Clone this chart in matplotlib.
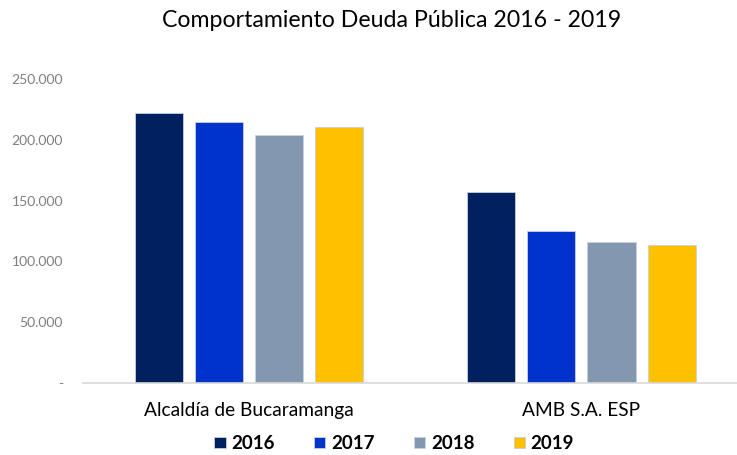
import matplotlib
matplotlib.use("Agg")
import matplotlib.pyplot as plt
import numpy as np

categories = ["Alcaldía de Bucaramanga", "AMB S.A. ESP"]
years = ["2016", "2017", "2018", "2019"]
values = {
    "2016": [222200, 156900],
    "2017": [214800, 125000],
    "2018": [204400, 115900],
    "2019": [210900, 113700],
}
colors = ["#002060", "#0033CC", "#8497B0", "#FFC000"]
yticks = [0, 50000, 100000, 150000, 200000, 250000]
ytick_labels = ["-", "50.000", "100.000", "150.000", "200.000", "250.000"]

plt.rcParams["font.family"] = ["Lato", "DejaVu Sans"]

fig = plt.figure(figsize=(7.37, 4.55), dpi=100)
ax = fig.add_axes([83 / 737, (455 - 382.7) / 455, 1 - 83 / 737, (382.7 - 79.3) / 455])

x = np.arange(len(categories))
step = 0.1807
width = 0.1446
for k, (yr, col) in enumerate(zip(years, colors)):
    ax.bar(x + (k - 1.5) * step, values[yr], width, color=col,
           edgecolor="#c8d0e0", linewidth=0.6, label=yr)

ax.set_xlim(-0.5, 1.468)
ax.set_ylim(0, 250000)
ax.set_yticks(yticks)
ax.set_yticklabels(ytick_labels, color="#7f7f7f", fontsize=10)
ax.set_xticks(x)
ax.set_xticklabels(categories, fontsize=13.8, color="black")
ax.tick_params(axis="both", length=0)
ax.tick_params(axis="y", pad=14.5)
ax.tick_params(axis="x", pad=14)
for s in ["top", "right", "left"]:
    ax.spines[s].set_visible(False)
ax.spines["bottom"].set_color("#d9d9d9")
ax.spines["bottom"].set_linewidth(1.2)

fig.text(0.531, 0.955, "Comportamiento Deuda Pública 2016 - 2019",
         ha="center", va="center", fontsize=16.7, color="black")

leg = fig.legend(loc="center", bbox_to_anchor=(0.535, 0.025), ncol=4, frameon=False,
                 prop={"weight": "bold", "size": 13.5}, handlelength=0.6,
                 handleheight=0.6, handletextpad=0.3, columnspacing=2.1)

fig.savefig("out.png", dpi=100)
